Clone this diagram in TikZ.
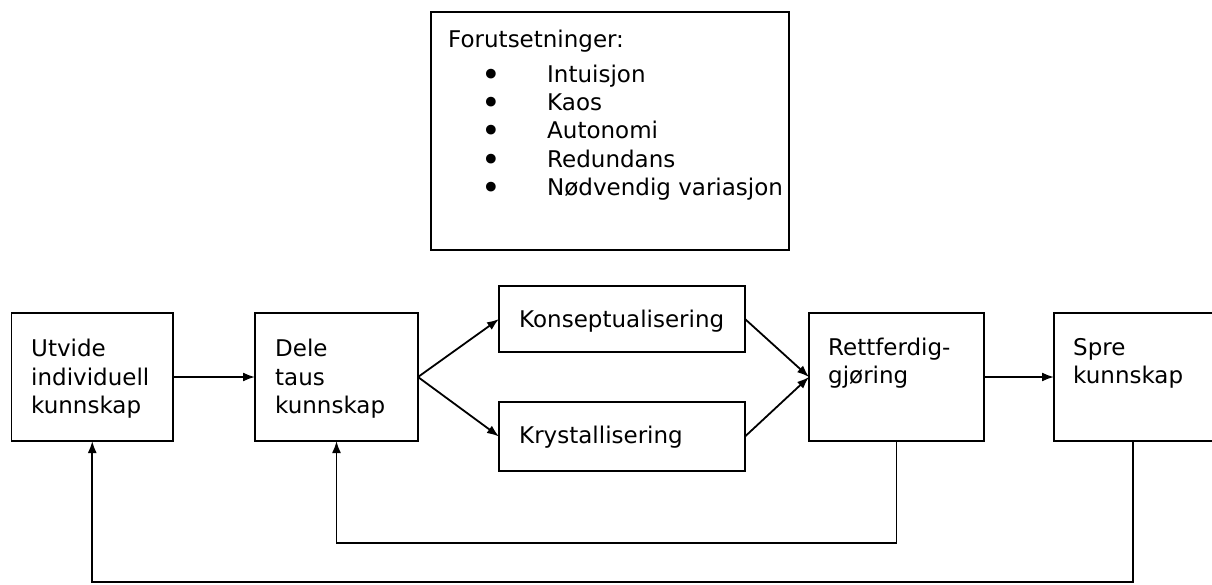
\documentclass[tikz,border=0pt]{standalone}
\usepackage{fontspec}
\setmainfont{DejaVu Sans}
\usetikzlibrary{arrows.meta}
\tikzset{
  box/.style={draw, line width=1.8pt, rectangle, inner sep=0pt, outer sep=0pt, anchor=north west},
  txt/.style={anchor=base west, inner sep=0pt, font=\fontsize{23}{28}\selectfont},
  arr/.style={line width=1.8pt, -{Latex[length=12pt,width=9pt]}},
}
\newcommand{\bulitem}[1]{\makebox[20pt][c]{\raisebox{-4pt}{\scalebox{1.45}{\textbullet}}}\hspace{46pt}#1}
\begin{document}
\begin{tikzpicture}[x=1pt,y=-1pt]
\useasboundingbox (0,0) rectangle (1212,584);
% premises box
\node[box, minimum width=358pt, minimum height=238pt] (pre) at (431,12) {};
\node[txt] (p0) at (448,47) {Forutsetninger:};
\node[txt] (p1) at (481,82) {\bulitem{Intuisjon}};
\node[txt] (p2) at (481,110) {\bulitem{Kaos}};
\node[txt] (p3) at (481,138) {\bulitem{Autonomi}};
\node[txt] (p4) at (481,167) {\bulitem{Redundans}};
\node[txt] (p5) at (481,195) {\bulitem{Nødvendig variasjon}};
% process boxes
\node[box, minimum width=161.5pt, minimum height=128pt] (utv) at (11.5,313) {};
\node[box, minimum width=163pt, minimum height=128pt] (dele) at (255,313) {};
\node[box, minimum width=246pt, minimum height=66pt] (kon) at (499,286) {};
\node[box, minimum width=246pt, minimum height=69pt] (kry) at (499,402) {};
\node[box, minimum width=175pt, minimum height=128pt] (ret) at (809,313) {};
\node[box, minimum width=160pt, minimum height=128pt] (spre) at (1054,313) {};
% texts
\node[txt] (u1) at (31,356) {Utvide};
\node[txt] (u2) at (31,385) {individuell};
\node[txt] (u3) at (31,413) {kunnskap};
\node[txt] (d1) at (275,356) {Dele};
\node[txt] (d2) at (275,385) {taus};
\node[txt] (d3) at (275,413) {kunnskap};
\node[txt] (k1) at (519,327) {Konseptualisering};
\node[txt] (k2) at (519,443) {Krystallisering};
\node[txt] (r1) at (828,355) {Rettferdig-};
\node[txt] (r2) at (828,383) {gjøring};
\node[txt] (s1) at (1073,355) {Spre};
\node[txt] (s2) at (1073,383) {kunnskap};
% connectors
\draw[arr] (utv.east) -- (dele.west);
\draw[arr] (dele.east) -- (kon.west);
\draw[arr] (dele.east) -- (kry.west);
\draw[arr] (kon.east) -- (ret.west);
\draw[arr] (kry.east) -- (ret.west);
\draw[arr] (ret.east) -- (spre.west);
\coordinate (fa) at (0,543);
\coordinate (fb) at (0,582);
\coordinate (sp) at (1133,441);
\draw[arr] (ret.south) -- (ret.south |- fa) -- (dele.south |- fa) -- (dele.south);
\draw[arr] (sp) -- (sp |- fb) -- (utv.south |- fb) -- (utv.south);
\end{tikzpicture}
\end{document}
